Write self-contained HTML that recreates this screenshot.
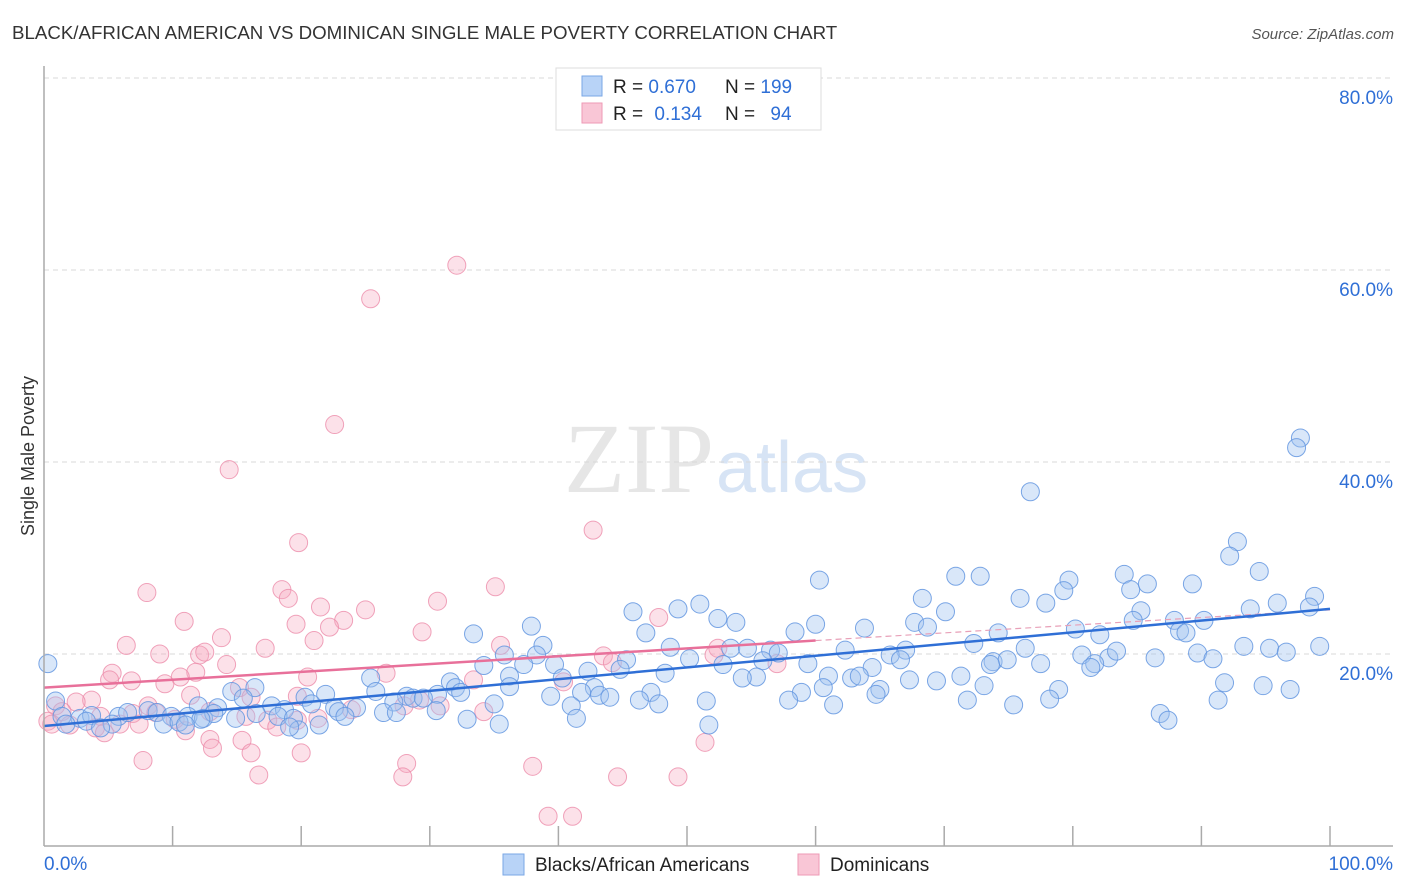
<!DOCTYPE html>
<html><head><meta charset="utf-8"><style>
body{margin:0;background:#fff;font-family:"Liberation Sans",sans-serif}
svg{display:block}
</style></head><body>
<svg id="chart" width="1406" height="892">
<text x="12" y="39" font-size="18.7" fill="#333">BLACK/AFRICAN AMERICAN VS DOMINICAN SINGLE MALE POVERTY CORRELATION CHART</text>
<text x="1394" y="39" font-size="15" fill="#555" font-style="italic" text-anchor="end">Source: ZipAtlas.com</text>
<text x="714" y="492" font-size="100" fill="#e6e6e6" font-family="Liberation Serif,serif" text-anchor="end">ZIP</text>
<text x="716" y="492" font-size="72" fill="#d7e4f5">atlas</text>
<g id="grid"></g><g id="pts"></g><g id="lines"></g><g id="axes"></g>
<text transform="translate(34,456) rotate(-90)" font-size="18" fill="#333" text-anchor="middle">Single Male Poverty</text>
<g>
<rect x="556" y="68" width="265" height="62" fill="#fff" stroke="#ddd"/>
<rect x="582" y="76" width="20" height="20" fill="#b8d3f7" stroke="#7aa7e6"/>
<rect x="582" y="103" width="20" height="20" fill="#f9c6d6" stroke="#ee9ab5"/>
<text x="613" y="93" font-size="19" fill="#222">R = <tspan fill="#2f6fd6">0.670</tspan></text>
<text x="725" y="93" font-size="19" fill="#222">N = <tspan fill="#2f6fd6">199</tspan></text>
<text x="613" y="120" font-size="19" fill="#222">R = <tspan fill="#2f6fd6" dx="6">0.134</tspan></text>
<text x="725" y="120" font-size="19" fill="#222">N = <tspan fill="#2f6fd6" dx="10">94</tspan></text>
</g>
<g>
<rect x="503" y="854" width="21" height="21" fill="#b8d3f7" stroke="#7aa7e6"/>
<text x="535" y="871" font-size="19" fill="#222">Blacks/African Americans</text>
<rect x="798" y="854" width="21" height="21" fill="#f9c6d6" stroke="#ee9ab5"/>
<text x="830" y="871" font-size="19" fill="#222">Dominicans</text>
</g>
</svg>
<script>
const yTicks=[20,40,60,80];
const xTickLabels=["0.0%","100.0%"];
const blueX=[97.7,97.4,76.7,92.8,92.2,94.5,70.9,72.8,84.0,79.7,84.5,85.8,89.3,79.3,60.3,98.8,68.3,75.9,77.9,95.9,98.4,93.8,51.0,49.3,45.8,52.4,70.1,85.3,53.8,84.7,67.7,68.7,87.9,90.2,63.8,60.0,37.9,33.4,46.8,58.4,80.2,82.1,74.2,88.3,88.8,38.8,48.7,53.4,54.7,67.0,93.3,95.3,99.2,96.6,76.3,72.3,62.3,56.5,57.1,45.3,38.3,35.8,50.2,55.9,59.4,65.8,66.6,73.8,74.9,80.7,82.8,83.4,86.4,89.7,90.9,81.7,81.4,77.5,0.3,34.2,37.3,39.7,42.3,44.8,52.8,48.3,55.4,54.3,62.8,61.0,64.4,63.4,71.3,73.6,67.3,69.4,73.1,91.8,25.4,36.2,40.3,31.6,32.0,36.2,42.8,16.4,14.6,25.8,30.6,32.4,41.8,43.2,47.2,58.9,65.0,60.6,78.9,94.8,96.9,20.3,21.9,15.5,28.2,28.7,29.5,39.4,44.0,46.3,47.8,51.5,57.9,64.7,71.8,78.2,91.3,75.4,61.4,0.9,12.0,13.5,17.7,20.8,18.7,22.6,24.3,22.9,27.2,35.0,41.0,30.5,1.4,2.8,3.7,5.8,6.5,8.1,8.8,9.9,11.2,12.4,13.2,14.9,16.5,18.2,19.4,23.4,26.4,27.4,32.9,41.4,86.8,87.4,1.7,3.3,5.3,9.3,10.5,12.2,21.4,35.4,51.7,19.8,4.4,11.0,19.1];
const blueY=[42.5,41.5,36.9,31.7,30.2,28.6,28.1,28.1,28.3,27.7,26.7,27.3,27.3,26.6,27.7,26.0,25.8,25.8,25.3,25.3,24.9,24.7,25.2,24.7,24.4,23.7,24.4,24.5,23.3,23.5,23.3,22.8,23.5,23.5,22.7,23.1,22.9,22.1,22.2,22.3,22.6,22.0,22.2,22.4,22.2,20.9,20.7,20.6,20.6,20.4,20.8,20.6,20.8,20.2,20.6,21.1,20.4,20.4,20.1,19.4,19.9,19.9,19.5,19.3,19.0,19.9,19.4,19.2,19.4,19.9,19.6,20.3,19.6,20.1,19.5,19.0,18.6,19.0,19.0,18.8,18.9,18.9,18.2,18.4,18.9,18.0,17.6,17.5,17.5,17.7,18.6,17.7,17.7,18.9,17.3,17.2,16.7,17.0,17.5,17.7,17.5,17.1,16.5,16.6,16.5,16.5,16.1,16.1,15.8,16.0,16.0,15.7,16.0,16.0,16.3,16.5,16.3,16.7,16.3,15.5,15.8,15.4,15.6,15.4,15.4,15.6,15.5,15.2,14.8,15.1,15.2,15.8,15.2,15.3,15.2,14.7,14.7,15.1,14.6,14.4,14.6,14.8,14.2,14.4,14.4,14.0,15.0,14.8,14.6,14.1,13.5,13.3,13.6,13.5,13.9,14.1,13.9,13.5,13.5,13.3,13.8,13.3,13.8,13.5,13.3,13.5,13.9,13.9,13.2,13.3,13.8,13.1,12.7,13.0,12.7,12.7,12.9,13.2,12.6,12.7,12.6,12.1,12.3,12.6,12.4];
const pinkX=[32.1,25.4,22.6,14.4,42.7,19.8,8.0,18.5,35.1,19.0,30.6,21.5,25.0,10.9,23.3,19.6,22.2,47.8,29.4,13.8,6.4,17.2,35.5,9.0,12.1,12.5,21.0,52.4,43.5,44.2,52.1,57.0,14.2,5.3,11.8,26.6,20.5,6.8,5.1,10.6,9.4,15.2,33.4,40.4,3.7,2.5,11.4,16.1,19.7,29.2,8.1,0.9,0.3,1.4,4.4,6.9,8.7,10.2,12.9,15.7,17.4,21.3,23.9,28.0,30.8,34.2,0.6,2.0,4.0,5.9,7.4,11.0,4.7,12.9,15.4,18.1,13.1,16.1,20.0,51.4,7.7,28.2,38.0,16.7,27.9,44.6,49.3,39.2,41.1,19.7];
const pinkY=[60.5,57.0,43.9,39.2,32.9,31.6,26.4,26.7,27.0,25.8,25.5,24.9,24.6,23.4,23.5,23.1,22.8,23.8,22.3,21.7,20.9,20.6,20.9,20.0,19.9,20.2,21.4,20.6,19.8,19.1,19.9,19.0,18.9,18.0,18.1,18.0,17.6,17.2,17.3,17.6,16.9,16.5,17.3,17.1,15.2,15.0,15.7,15.5,15.6,15.2,14.6,14.6,13.0,14.0,13.5,13.8,13.9,13.2,14.0,13.5,13.1,13.3,14.2,14.6,14.6,14.0,12.7,12.6,12.3,12.7,12.7,12.0,11.8,11.1,11.0,12.4,10.2,9.7,9.7,10.8,8.9,8.6,8.3,7.4,7.2,7.2,7.2,3.1,3.1,13.1];
const blueLine=[12.5,24.7];
const pinkLine=[16.5,21.4,24.6];
const NS="http://www.w3.org/2000/svg";
const X0=44,X1=1330,Y0=846,PY=9.6;
const sx=v=>X0+(X1-X0)*v/100, sy=v=>Y0-v*PY;
function mk(t,a,p){const e=document.createElementNS(NS,t);for(const k in a)e.setAttribute(k,a[k]);p.appendChild(e);return e;}
const grid=document.getElementById('grid'),axes=document.getElementById('axes'),pts=document.getElementById('pts'),lines=document.getElementById('lines');
yTicks.forEach(v=>{
 const l=mk('line',{x1:X0,x2:1393,y1:sy(v),y2:sy(v),stroke:'#d8d8d8','stroke-dasharray':'5,4'},grid);
 
 
 const t=mk('text',{x:1393,y:sy(v)+26,'font-size':19,fill:'#2f6fd6','text-anchor':'end'},axes);
 t.textContent=v.toFixed(1)+'%';
 
 
});
mk('line',{x1:X0,x2:X0,y1:66,y2:Y0,stroke:'#aaa','stroke-width':1.5},axes);
mk('line',{x1:X0,x2:1393,y1:Y0,y2:Y0,stroke:'#aaa','stroke-width':1.5},axes);
for(let i=1;i<=10;i++){const t=mk('line',{x1:sx(i*10),x2:sx(i*10),y1:826,y2:Y0,stroke:'#aaa','stroke-width':1.5},axes);
 
 }
const xl0=mk('text',{x:44,y:870,'font-size':19,fill:'#2f6fd6'},axes);xl0.textContent=xTickLabels[0];


const xl1=mk('text',{x:1393,y:870,'font-size':19,fill:'#2f6fd6','text-anchor':'end'},axes);xl1.textContent=xTickLabels[1];


pinkX.forEach((x,i)=>{const c=mk('circle',{cx:sx(x),cy:sy(pinkY[i]),r:9,fill:'rgba(245,168,192,0.35)',stroke:'rgba(236,140,170,0.8)','stroke-width':1},pts);
 
 });
blueX.forEach((x,i)=>{const c=mk('circle',{cx:sx(x),cy:sy(blueY[i]),r:9,fill:'rgba(160,195,240,0.4)',stroke:'rgba(100,150,225,0.85)','stroke-width':1},pts);
 
 });
const pd=mk('line',{x1:sx(60),y1:sy(pinkLine[1]),x2:sx(100),y2:sy(pinkLine[2]),stroke:'#e8a0b8','stroke-width':1.2,'stroke-dasharray':'6,4'},lines);


const bl=mk('line',{x1:sx(0),y1:sy(blueLine[0]),x2:sx(100),y2:sy(blueLine[1]),stroke:'#2f6fd6','stroke-width':2.5},lines);


const pl=mk('line',{x1:sx(0),y1:sy(pinkLine[0]),x2:sx(60),y2:sy(pinkLine[1]),stroke:'#e8709a','stroke-width':2.5},lines);


</script>
</body></html>
